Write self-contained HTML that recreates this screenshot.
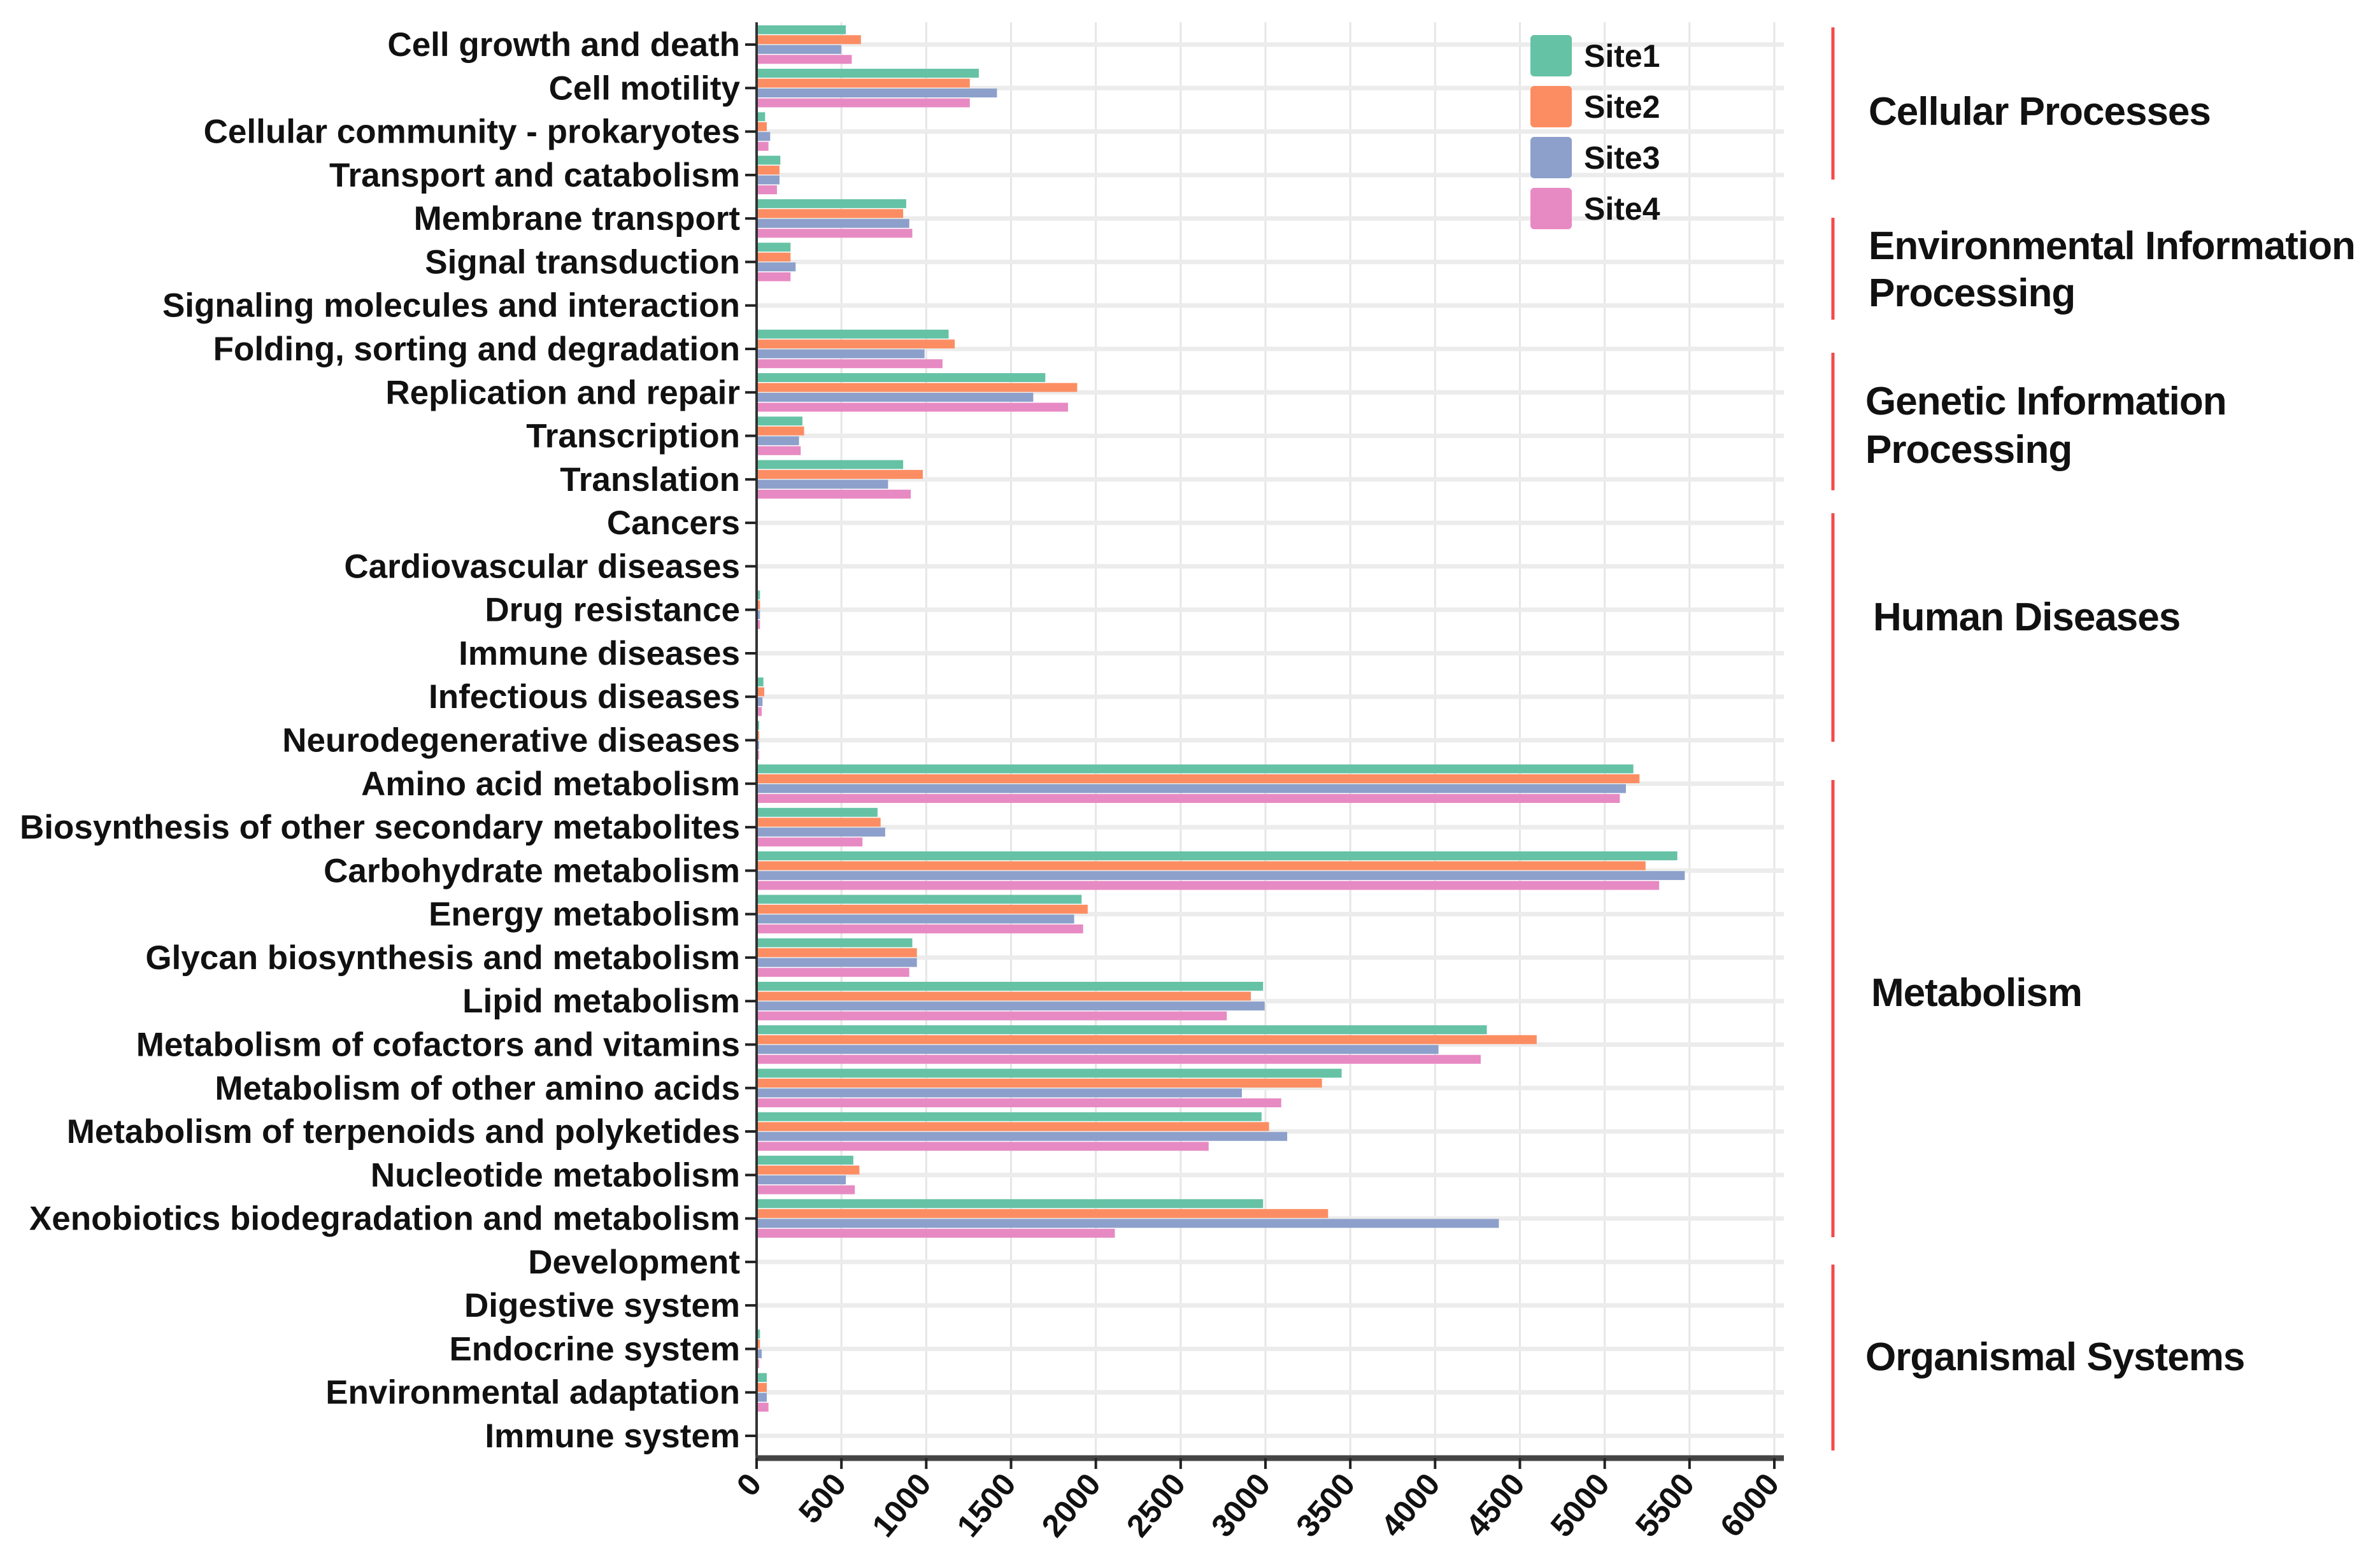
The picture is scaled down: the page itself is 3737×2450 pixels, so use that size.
<!DOCTYPE html>
<html><head><meta charset="utf-8"><style>
html,body{margin:0;padding:0;background:#fff;}
svg{display:block;font-family:"Liberation Sans",sans-serif;}
</style></head><body>
<svg id="chart" width="3737" height="2450" viewBox="0 0 3737 2450" xmlns="http://www.w3.org/2000/svg">
<g id="grid"></g>
<g id="bars"></g>
<g id="axes"></g>
<g id="legend"></g>
<g id="groups"></g>
</svg>
<script>
const categories = ["Cell growth and death","Cell motility","Cellular community - prokaryotes","Transport and catabolism","Membrane transport","Signal transduction","Signaling molecules and interaction","Folding, sorting and degradation","Replication and repair","Transcription","Translation","Cancers","Cardiovascular diseases","Drug resistance","Immune diseases","Infectious diseases","Neurodegenerative diseases","Amino acid metabolism","Biosynthesis of other secondary metabolites","Carbohydrate metabolism","Energy metabolism","Glycan biosynthesis and metabolism","Lipid metabolism","Metabolism of cofactors and vitamins","Metabolism of other amino acids","Metabolism of terpenoids and polyketides","Nucleotide metabolism","Xenobiotics biodegradation and metabolism","Development","Digestive system","Endocrine system","Environmental adaptation","Immune system"];
const seriesNames = ["Site1","Site2","Site3","Site4"];
const site1 = [526,1310,50,140,882,200,3,1132,1702,270,864,5,3,20,5,40,15,5169,713,5428,1916,918,2986,4305,3449,2977,570,2986,3,3,20,60,3];
const site2 = [615,1257,60,135,864,200,3,1168,1890,280,980,5,3,20,5,45,15,5205,731,5241,1952,945,2914,4599,3333,3021,606,3369,3,3,20,60,3];
const site3 = [499,1417,80,135,900,230,3,990,1631,250,775,5,3,20,5,35,15,5125,758,5472,1872,945,2995,4020,2861,3128,526,4376,3,3,30,60,3];
const site4 = [561,1257,70,120,918,200,3,1096,1836,260,909,5,3,20,5,30,15,5089,624,5321,1925,900,2772,4269,3093,2665,579,2112,3,3,15,70,3];
const xTicks = [0,500,1000,1500,2000,2500,3000,3500,4000,4500,5000,5500,6000];
const groupNames = [["Cellular Processes"],["Environmental Information","Processing"],["Genetic Information","Processing"],["Human Diseases"],["Metabolism"],["Organismal Systems"]];
const groupStart = [0,4,7,11,17,28];
const groupEnd = [3,6,10,16,27,32];

const NS="http://www.w3.org/2000/svg";
const colors=["#66c2a5","#fc8d62","#8da0cb","#e78ac3"];
const X0=1188, X1=2786, XMAX=6000;
const ROW0=70, ROWSTEP=(2255-70)/32;
const xs=v=>X0+(v/XMAX)*(X1-X0);
const ys=i=>ROW0+i*ROWSTEP;
// layout (not data): bracket extents and label centres
const bracketTop=[43,342,554,806,1225,1986], bracketBot=[282,502,770,1165,1943,2278];
const labelY=[[174],[385,459],[629,705],[968],[1558],[2130]];
const labelX=[2934,2934,2929,2941,2938,2929];
function mk(tag,attrs,parent){const e=document.createElementNS(NS,tag);for(const k in attrs)e.setAttribute(k,attrs[k]);parent.appendChild(e);return e;}
const grid=document.getElementById('grid'),bars=document.getElementById('bars'),axes=document.getElementById('axes'),legend=document.getElementById('legend'),groups=document.getElementById('groups');

xTicks.forEach(t=>{const l=mk('line',{x1:xs(t),x2:xs(t),y1:35,y2:2290,stroke:'#e6e6e6','stroke-width':3},grid);

});
categories.forEach((c,i)=>{const l=mk('line',{x1:X0,x2:X1+15,y1:ys(i),y2:ys(i),stroke:'#ececec','stroke-width':7},grid);

});

const series=[site1,site2,site3,site4];
const BH=14, BSTEP=15.5;
series.forEach((s,si)=>{s.forEach((v,i)=>{
 const yc=ys(i)+(si-1.5)*BSTEP;
 const r=mk('rect',{x:X0,y:yc-BH/2,width:Math.max(0,xs(v)-X0),height:BH,fill:colors[si]},bars);
 
 
});});

const ya=mk('line',{x1:X0,x2:X0,y1:35,y2:2294,stroke:'#333','stroke-width':4},axes);


categories.forEach((c,i)=>{
 const tk=mk('line',{x1:X0-18,x2:X0,y1:ys(i),y2:ys(i),stroke:'#222','stroke-width':4},axes);
 
 
 const t=mk('text',{x:X0-26,y:ys(i)+18,'text-anchor':'end','font-size':53,'font-weight':'bold',fill:'#111'},axes);
 t.textContent=c;
 
 
});
const xa=mk('line',{x1:X0-2,x2:X1+15,y1:2290,y2:2290,stroke:'#444','stroke-width':9},axes);


xTicks.forEach(t=>{
 const tk=mk('line',{x1:xs(t),x2:xs(t),y1:2290,y2:2307,stroke:'#222','stroke-width':4},axes);
 
 
 const tx=mk('text',{x:xs(t)+10,y:2332,'text-anchor':'end','font-size':50,'font-weight':'bold',fill:'#111',transform:`rotate(-50 ${xs(t)+10} 2332)`},axes);
 tx.textContent=t;
 
 
});

seriesNames.forEach((n,i)=>{
 const y=55+i*80;
 const r=mk('rect',{x:2403,y:y,width:65,height:65,rx:6,fill:colors[i]},legend);
 
 
 const t=mk('text',{x:2487,y:y+50,'font-size':50,'font-weight':'bold',fill:'#111'},legend);
 t.textContent=n;
 
 
});

groupNames.forEach((g,gi)=>{
 const l=mk('line',{x1:2878,x2:2878,y1:bracketTop[gi],y2:bracketBot[gi],stroke:'#f24b4b','stroke-width':5},groups);
 
 
 g.forEach((line,li)=>{
  const t=mk('text',{x:labelX[gi],y:labelY[gi][li]+22,'font-size':62,'font-weight':'bold',fill:'#111','letter-spacing':-1},groups);
  t.textContent=line;
  
  
 });
});
</script>
</body></html>
